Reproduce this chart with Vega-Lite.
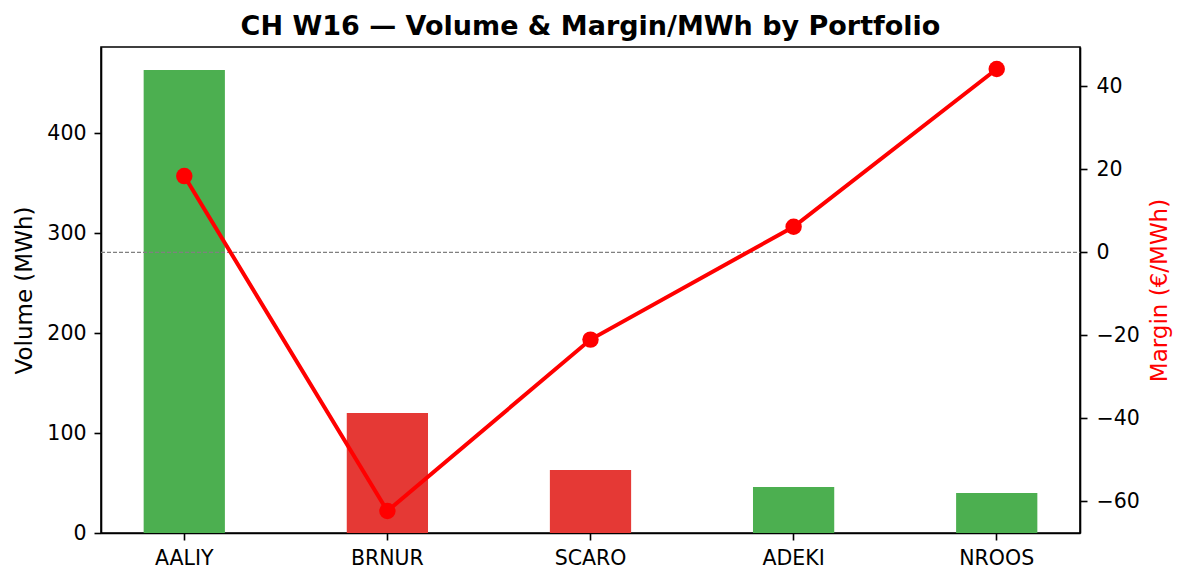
{
  "$schema": "https://vega.github.io/schema/vega-lite/v6.json",
  "width": 979,
  "height": 486,
  "autosize": {"type": "none"},
  "padding": {"left": 101, "top": 47, "right": 106, "bottom": 50},
  "background": "white",
  "config": {
    "font": "DejaVu Sans",
    "view": {"stroke": "black", "strokeWidth": 1.6},
    "axis": {
      "domainColor": "black",
      "domainWidth": 1.6,
      "tickColor": "black",
      "tickWidth": 1.6,
      "tickSize": 7,
      "labelPadding": 8,
      "labelFont": "DejaVu Sans",
      "labelFontSize": 20.5,
      "labelColor": "black",
      "titleFont": "DejaVu Sans",
      "titleFontSize": 23,
      "titleFontWeight": "normal",
      "titleColor": "black",
      "grid": false
    }
  },
  "title": {
    "text": "CH W16 — Volume & Margin/MWh by Portfolio",
    "font": "DejaVu Sans",
    "fontSize": 27,
    "fontWeight": "bold",
    "color": "black",
    "anchor": "middle",
    "offset": 6
  },
  "data": {
    "values": [
      {"portfolio": "AALIY", "volume": 463, "margin": 18.4},
      {"portfolio": "BRNUR", "volume": 120, "margin": -62.3},
      {"portfolio": "SCARO", "volume": 63, "margin": -21.0},
      {"portfolio": "ADEKI", "volume": 46, "margin": 6.2},
      {"portfolio": "NROOS", "volume": 40, "margin": 44.2}
    ]
  },
  "encoding": {
    "x": {
      "field": "portfolio",
      "type": "nominal",
      "sort": null,
      "scale": {"paddingInner": 0.6, "paddingOuter": 0.21},
      "axis": {"title": null, "labelAngle": 0}
    }
  },
  "layer": [
    {
      "transform": [{"calculate": "datum.margin >= 0 ? 'pos' : 'neg'", "as": "sign"}],
      "mark": {"type": "bar"},
      "encoding": {
        "y": {
          "field": "volume",
          "type": "quantitative",
          "scale": {"domain": [0, 486], "nice": false},
          "axis": {"title": "Volume (MWh)", "values": [0, 100, 200, 300, 400], "titlePadding": 10}
        },
        "color": {
          "field": "sign",
          "type": "nominal",
          "scale": {"domain": ["pos", "neg"], "range": ["#4CAF50", "#E53935"]},
          "legend": null
        }
      }
    },
    {
      "mark": {"type": "rule", "color": "#808080", "strokeWidth": 1, "strokeDash": [4, 2]},
      "encoding": {
        "x": {"value": 0},
        "x2": {"value": 979},
        "y": {
          "datum": 0,
          "type": "quantitative",
          "scale": {"domain": [-67.6, 49.5], "nice": false},
          "axis": null
        }
      }
    },
    {
      "mark": {"type": "line", "color": "#FF0000", "strokeWidth": 4},
      "encoding": {
        "y": {
          "field": "margin",
          "type": "quantitative",
          "scale": {"domain": [-67.6, 49.5], "nice": false},
          "axis": {
            "orient": "right",
            "title": "Margin (€/MWh)",
            "titleColor": "#FF0000",
            "titleAngle": 270,
            "titleBaseline": "top",
            "values": [-60, -40, -20, 0, 20, 40],
            "labelPadding": 9,
            "titlePadding": 9
          }
        }
      }
    },
    {
      "mark": {"type": "point", "filled": true, "color": "#FF0000", "opacity": 1, "size": 270},
      "encoding": {
        "y": {
          "field": "margin",
          "type": "quantitative",
          "scale": {"domain": [-67.6, 49.5], "nice": false},
          "axis": null
        }
      }
    }
  ],
  "resolve": {"scale": {"y": "independent"}, "axis": {"y": "independent"}}
}
